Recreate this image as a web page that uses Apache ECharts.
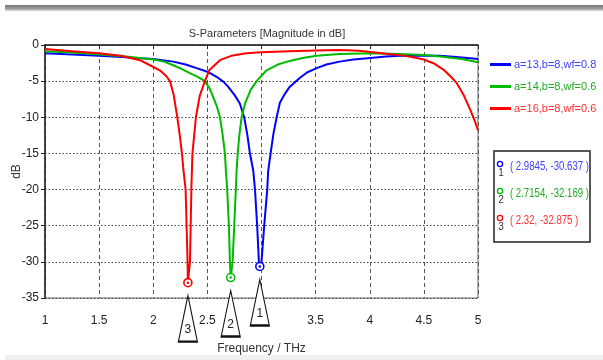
<!DOCTYPE html>
<html><head><meta charset="utf-8">
<script src="https://cdn.jsdelivr.net/npm/echarts@6/dist/echarts.min.js"></script>
<style>html,body{margin:0;padding:0;background:#fff}#c{width:603px;height:360px}</style>
</head><body><div id="c"></div>
<script>
const FONT = "'Liberation Sans','Arial',sans-serif";
const seriesNames = ['a=13,b=8,wf=0.8', 'a=14,b=8,wf=0.6', 'a=16,b=8,wf=0.6'];
const seriesColors = ['#0000ff', '#00bb00', '#ff0000'];
const textColors = ['#4040ff', '#22aa22', '#ff3030'];

const blueFreq = [1.0,1.25,1.5,1.75,1.877,2.0,2.185,2.3,2.4,2.5,2.585,2.65,2.693,2.75,2.8,2.84,2.87,2.893,2.924,2.94,2.96,2.976,2.9845,3.0,3.025,3.053,3.062,3.084,3.11,3.14,3.17,3.21,3.26,3.35,3.42,3.51,3.6,3.72,3.85,4.03,4.15,4.28,4.45,4.65,4.8,4.9,5.0];
const blueDb   = [-1.15,-1.3,-1.5,-1.7,-1.85,-1.95,-2.3,-2.7,-3.2,-3.7,-4.4,-5.1,-5.8,-6.9,-8.1,-10,-12.5,-15,-17.4,-20,-25,-30,-30.637,-30,-25,-20,-17.4,-15,-12.3,-10,-8,-6.9,-5.8,-4.6,-3.8,-3.2,-2.7,-2.3,-2.0,-1.75,-1.6,-1.5,-1.45,-1.5,-1.65,-1.8,-1.95];

const greenFreq = [1.0,1.25,1.5,1.75,1.877,2.0,2.1,2.185,2.26,2.339,2.41,2.477,2.52,2.554,2.59,2.616,2.64,2.662,2.671,2.683,2.699,2.708,2.7154,2.733,2.748,2.763,2.77,2.78,2.795,2.816,2.85,2.9,2.955,3.047,3.15,3.26,3.38,3.51,3.72,4.03,4.28,4.5,4.65,4.85,5.0];
const greenDb   = [-0.85,-1.05,-1.3,-1.6,-1.8,-2.0,-2.3,-2.8,-3.3,-3.9,-4.4,-5.0,-6.0,-7.2,-8.6,-10,-12.3,-15,-17.4,-20,-25,-30,-32.169,-30,-25,-20,-17.4,-15,-12.5,-10,-8,-6.2,-5.0,-3.5,-2.7,-2.2,-1.8,-1.5,-1.25,-1.15,-1.25,-1.4,-1.6,-1.95,-2.4];

const redFreq = [1.0,1.25,1.5,1.7,1.877,1.97,2.06,2.12,2.155,2.19,2.222,2.245,2.265,2.277,2.299,2.308,2.317,2.32,2.339,2.346,2.352,2.358,2.362,2.378,2.394,2.43,2.477,2.517,2.616,2.72,2.86,3.0,3.26,3.5,3.72,3.9,4.03,4.15,4.28,4.4,4.5,4.6,4.68,4.75,4.8,4.87,4.93,4.97,5.0];
const redDb   = [-0.55,-0.85,-1.15,-1.5,-2.1,-2.8,-3.5,-4.3,-5.0,-7.0,-10,-12.5,-15,-17,-20,-25,-30,-32.875,-30,-25,-20,-17,-15,-12.5,-10,-7,-5,-3.5,-2.1,-1.5,-1.15,-1.0,-0.85,-0.75,-0.7,-0.8,-1.0,-1.2,-1.4,-1.7,-2.0,-2.6,-3.4,-4.4,-5.2,-7.0,-9.0,-10.5,-11.8];

const markerFreq = [2.9845, 2.7154, 2.32];
const markerDb = [-30.637, -32.169, -32.875];
const markerIds = ['1', '2', '3'];

const xTicks = {min: 1, max: 5, interval: 0.5};
const yTicks = {min: -35, max: 0, interval: 5};

const freqs = [blueFreq, greenFreq, redFreq];
const dbs = [blueDb, greenDb, redDb];

const chart = echarts.init(document.getElementById('c'));

const series = seriesNames.map((name, i) => ({
  name: name,
  type: 'line',
  data: freqs[i].map((f, k) => [f, dbs[i][k]]),
  showSymbol: false,
  lineStyle: {color: seriesColors[i], width: 2},
  itemStyle: {color: seriesColors[i]},
  z: 3 + i,
  markPoint: {
    z: 10,
    animation: false,
    data: [
      {coord: [markerFreq[i], markerDb[i]], symbol: 'path://M10,0 L20,46 L0,46 Z', symbolSize: [19, 46], symbolOffset: [0, 36],
       itemStyle: {color: '#fff', borderColor: '#111', borderWidth: 1.5},
       label: {show: true, formatter: markerIds[i], position: 'inside', offset: [0, 11], color: '#222', fontSize: 12, fontFamily: FONT}},
      {coord: [markerFreq[i], markerDb[i]], symbol: 'circle', symbolSize: 8,
       itemStyle: {color: '#fff', borderColor: seriesColors[i], borderWidth: 1.6}, label: {show: false}},
      {coord: [markerFreq[i], markerDb[i]], symbol: 'circle', symbolSize: 2.5,
       itemStyle: {color: seriesColors[i]}, label: {show: false}}
    ]
  }
}));

const boxTop = 151, lineH = 27;
const boxChildren = [
  {type: 'rect', shape: {x: 494, y: boxTop, width: 96, height: 91}, style: {fill: '#fff', stroke: '#222', lineWidth: 1.5}}
];
markerIds.forEach((id, i) => {
  const cy = 167 + i * lineH;
  boxChildren.push({type: 'circle', shape: {cx: 500, cy: cy - 3, r: 2.6}, style: {fill: '#fff', stroke: seriesColors[i], lineWidth: 1.3}});
  boxChildren.push({type: 'text', style: {x: 501, y: cy + 6, text: id, fill: '#333', font: '10px ' + FONT, textAlign: 'center', textVerticalAlign: 'middle'}});
  boxChildren.push({type: 'text', x: 510, y: cy, scaleX: 0.8, style: {x: 0, y: 0, text: '( ' + markerFreq[i] + ', ' + markerDb[i] + ' )', fill: textColors[i], font: '12px ' + FONT, textVerticalAlign: 'middle'}});
});

chart.setOption({
  animation: false,
  backgroundColor: '#fff',
  title: {text: 'S-Parameters [Magnitude in dB]', left: 262, top: 23, textAlign: 'center',
    textStyle: {fontFamily: FONT, fontSize: 11, fontWeight: 'normal', color: '#333'}},
  grid: {left: 45, right: 125, top: 45, bottom: 62, show: true, borderColor: '#666', borderWidth: 1,
    containLabel: false, outerBoundsMode: 'none'},
  legend: {
    orient: 'vertical', left: 485, top: 54, itemGap: 11, itemWidth: 21, itemHeight: 3,
    icon: 'rect',
    data: seriesNames.map((n, i) => ({name: n, textStyle: {color: textColors[i]}})),
    textStyle: {fontFamily: FONT, fontSize: 11, padding: [0, 0, 0, -2]}
  },
  xAxis: {
    type: 'value', min: xTicks.min, max: xTicks.max, interval: xTicks.interval,
    name: 'Frequency / THz', nameLocation: 'middle', nameGap: 45, nameMoveOverlap: false,
    nameTextStyle: {fontFamily: FONT, fontSize: 12, color: '#333'},
    axisLine: {show: true, lineStyle: {color: '#222', width: 1.5}},
    axisTick: {show: true, length: 4, lineStyle: {color: '#222'}},
    axisLabel: {fontFamily: FONT, fontSize: 12, color: '#222', margin: 17},
    splitLine: {show: true, lineStyle: {color: '#555', type: [4, 3], width: 1}}
  },
  yAxis: {
    type: 'value', min: yTicks.min, max: yTicks.max, interval: yTicks.interval,
    name: 'dB', nameLocation: 'middle', nameGap: 22, nameRotate: 90, nameMoveOverlap: false,
    nameTextStyle: {fontFamily: FONT, fontSize: 12, color: '#333'},
    axisLine: {show: true, lineStyle: {color: '#222', width: 1.5}},
    axisTick: {show: true, length: 4, lineStyle: {color: '#222'}},
    axisLabel: {fontFamily: FONT, fontSize: 12, color: '#222', margin: 6},
    splitLine: {show: true, lineStyle: {color: '#444', type: [1.5, 2], width: 1}}
  },
  graphic: [
    {type: 'rect', shape: {x: 5, y: 5, width: 598, height: 6}, z: 100,
     style: {fill: new echarts.graphic.LinearGradient(0, 0, 0, 1, [{offset: 0, color: '#777'}, {offset: 0.6, color: '#999'}, {offset: 1, color: '#ddd'}])}},
    {type: 'rect', shape: {x: 5, y: 355, width: 598, height: 5}, z: 100, style: {fill: '#f0f0f0'}},
    {type: 'group', z: 100, children: boxChildren}
  ],
  series: series
});
</script>
</body></html>
